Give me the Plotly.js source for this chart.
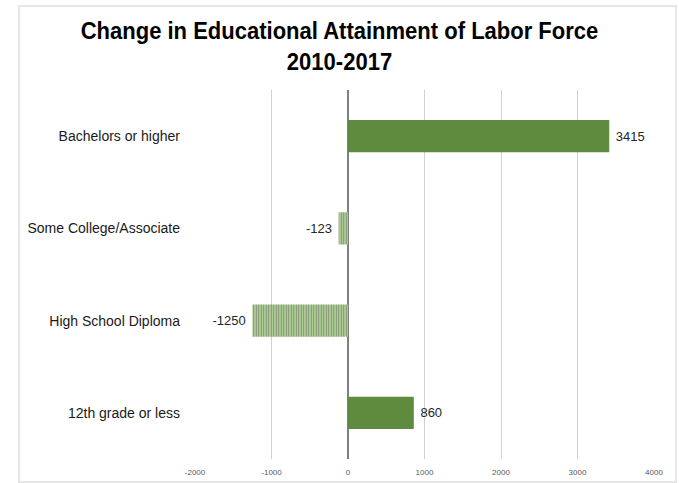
<!DOCTYPE html>
<html>
<head>
<meta charset="utf-8">
<script src="https://cdn.plot.ly/plotly-3.0.1.min.js"></script>
<style>
html,body{margin:0;padding:0;background:#fff;}
#frame{position:absolute;left:18px;top:5px;width:655px;height:474px;border:2px solid #e6e6e6;}
#chart{position:absolute;left:0;top:0;width:679px;height:483px;}
</style>
</head>
<body>
<div id="frame"></div>
<div id="chart"></div>
<script>
const categories = ["Bachelors or higher", "Some College/Associate", "High School Diploma", "12th grade or less"];
const changes = [3415, -123, -1250, 860];
const tickValues = [-2000, -1000, 0, 1000, 2000, 3000, 4000];

const barColors = changes.map(v => v < 0 ? "#aecb96" : "#5e8b3e");
const patternShapes = changes.map(v => v < 0 ? "|" : "");

const trace = {
  type: "bar",
  orientation: "h",
  y: categories,
  x: changes,
  width: 0.35,
  text: changes.map(v => v < 0 ? String(v) + " " : " " + String(v)),
  textposition: "outside",
  cliponaxis: false,
  textfont: {family: "Liberation Sans, Arial, sans-serif", size: 13, color: "#262626"},
  marker: {
    color: barColors,
    line: {width: 0},
    pattern: {shape: patternShapes, fgcolor: "#a9c791", bgcolor: barColors, size: 2.5, solidity: 0.3, fillmode: "overlay"}
  },
  hoverinfo: "none"
};

const layout = {
  width: 679,
  height: 483,
  paper_bgcolor: "rgba(0,0,0,0)",
  plot_bgcolor: "rgba(0,0,0,0)",
  margin: {l: 195, r: 25, t: 90, b: 24},
  showlegend: false,
  title: {
    text: "<b>Change in Educational Attainment of Labor Force<br>2010-2017</b>",
    font: {family: "Liberation Sans, Arial, sans-serif", size: 24, color: "#000"},
    x: 0.5, xanchor: "center", yref: "container", y: 0.92, yanchor: "middle"
  },
  xaxis: {
    range: [-2000, 4000],
    tickvals: tickValues,
    ticktext: tickValues.map(String),
    showgrid: true,
    gridcolor: "#d0d0d0",
    gridwidth: 1,
    zeroline: true,
    zerolinecolor: "#7f7f7f",
    zerolinewidth: 2,
    showline: false,
    ticks: "",
    ticklabelstandoff: 7,
    tickfont: {family: "Liberation Sans, Arial, sans-serif", size: 8, color: "#595959"},
    fixedrange: true
  },
  yaxis: {
    autorange: "reversed",
    showgrid: false,
    zeroline: false,
    showline: false,
    ticks: "",
    ticklabelstandoff: 14,
    tickfont: {family: "Liberation Sans, Arial, sans-serif", size: 14, color: "#1a1a1a"},
    fixedrange: true
  },
  bargap: 0.65
};

Plotly.newPlot("chart", [trace], layout, {displayModeBar: false, staticPlot: true}).then(gd => {
  // Condense the title horizontally to mimic a narrow bold face
  const t = gd.querySelector("text.gtitle");
  if (t) {
    const bb = t.getBBox();
    const cx = bb.x + bb.width / 2;
    const s = 518 / bb.width;
    t.setAttribute("transform", "translate(" + cx + ",0) scale(" + s + ",1) translate(" + (-cx) + ",0)");
  }
});
</script>
</body>
</html>
